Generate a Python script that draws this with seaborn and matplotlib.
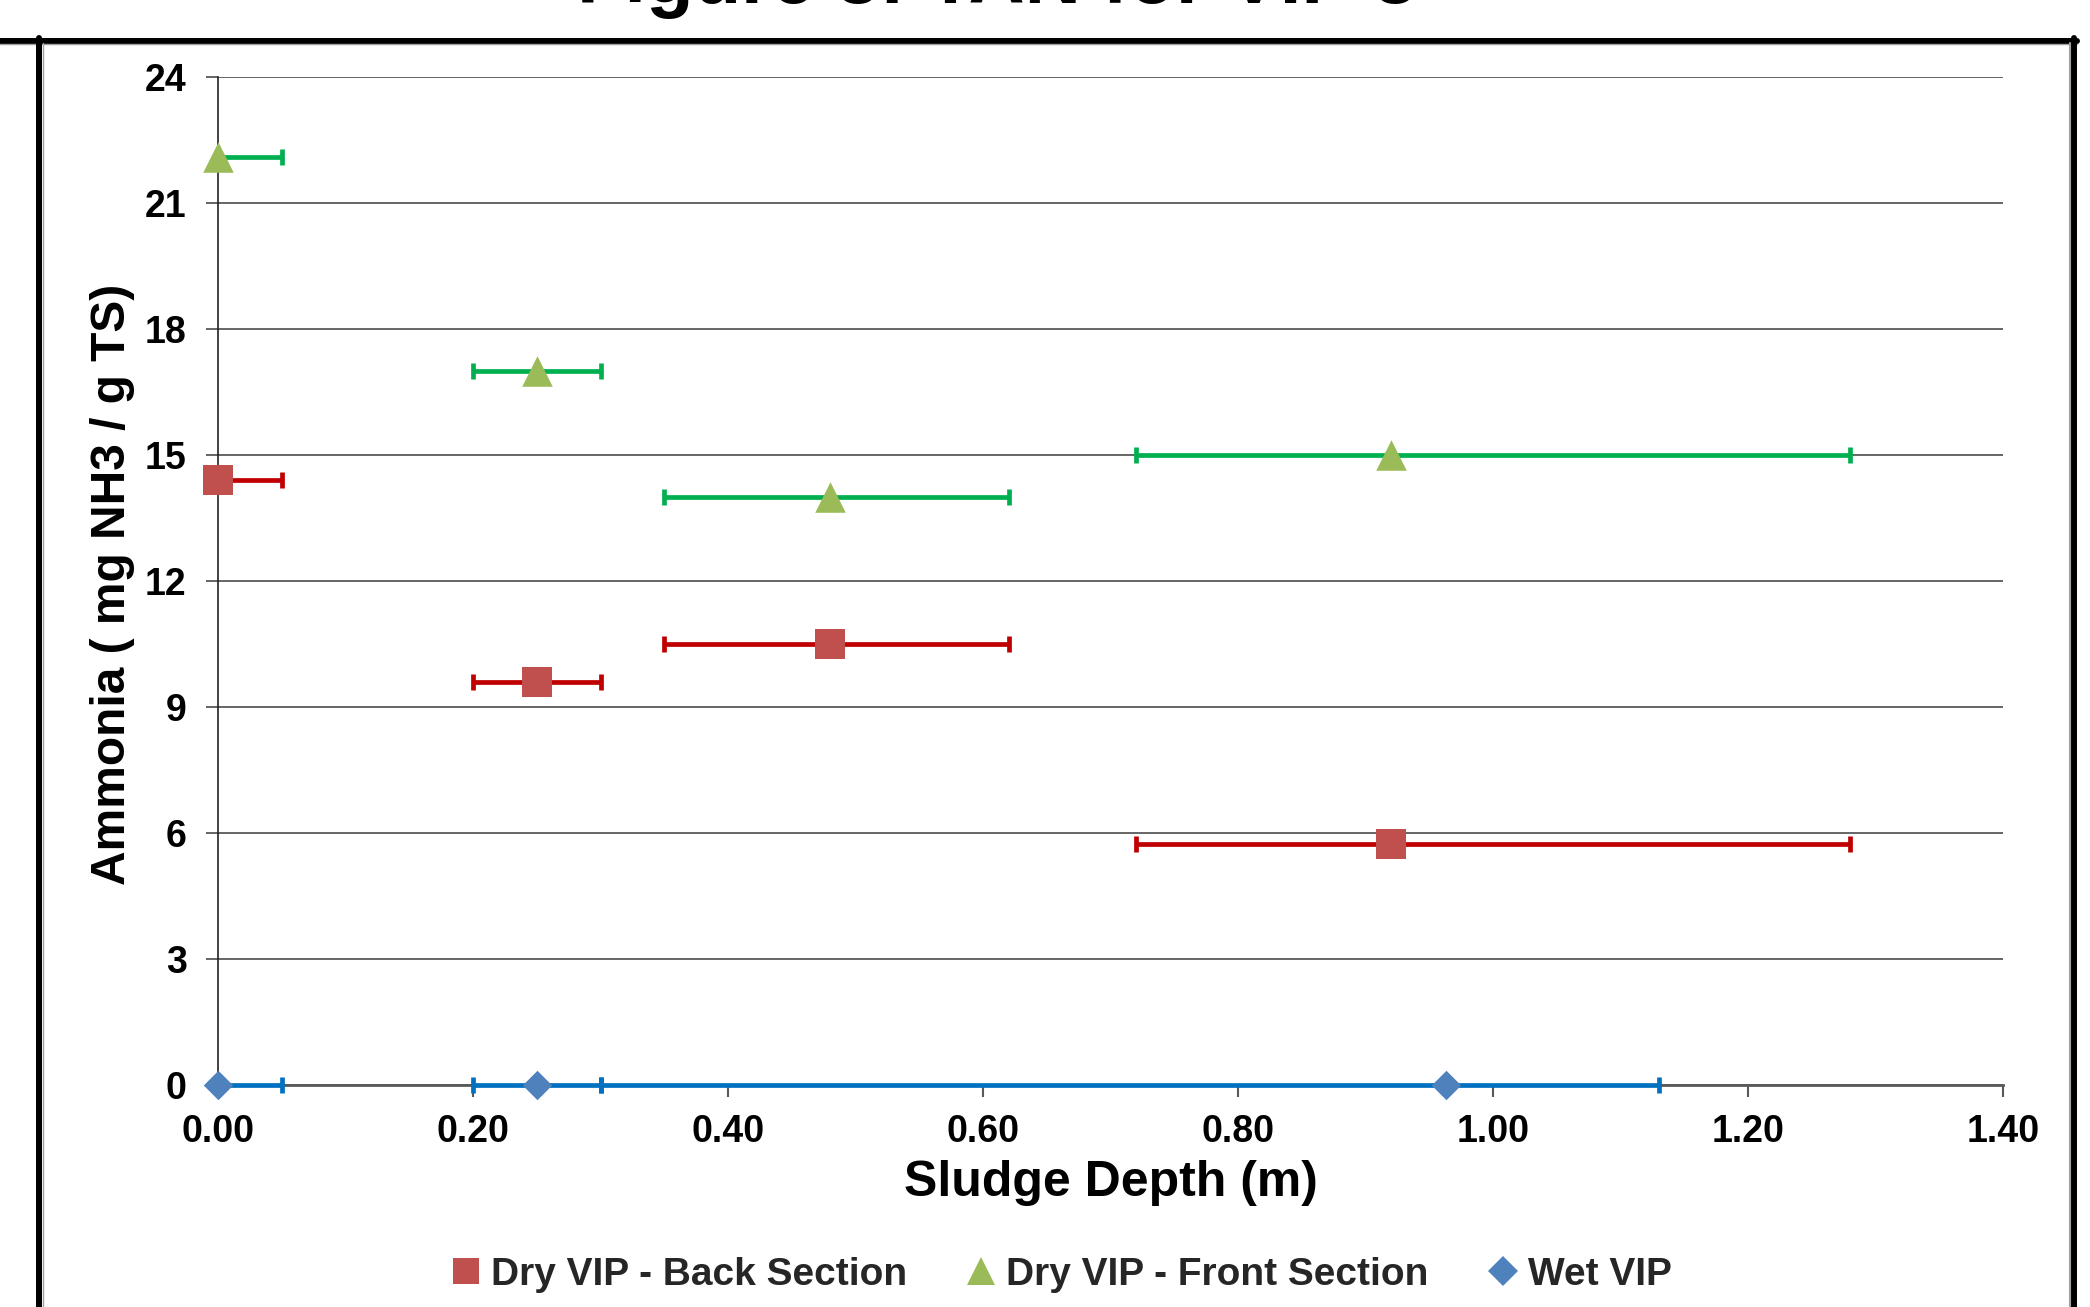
import numpy as np
import pandas as pd
import matplotlib
matplotlib.use("Agg")
import matplotlib.pyplot as plt
from matplotlib.lines import Line2D
import seaborn as sns

# ---------------- data ----------------
series_names = ["Dry VIP - Back Section", "Dry VIP - Front Section", "Wet VIP"]

back_depth = [0.00, 0.25, 0.48, 0.92]
back_ammonia = [14.4, 9.6, 10.5, 5.75]
back_err_lo = [0.00, 0.05, 0.13, 0.20]
back_err_hi = [0.05, 0.05, 0.14, 0.36]

front_depth = [0.00, 0.25, 0.48, 0.92]
front_ammonia = [22.1, 17.0, 14.0, 15.0]
front_err_lo = [0.00, 0.05, 0.13, 0.20]
front_err_hi = [0.05, 0.05, 0.14, 0.36]

wet_depth = [0.00, 0.25, 0.963]
wet_ammonia = [0.0, 0.0, 0.0]
wet_err_lo = [0.00, 0.05, 0.663]
wet_err_hi = [0.05, 0.05, 0.167]

y_ticks = [0, 3, 6, 9, 12, 15, 18, 21, 24]
x_ticks = [0.00, 0.20, 0.40, 0.60, 0.80, 1.00, 1.20, 1.40]
x_tick_labels = ["0.00", "0.20", "0.40", "0.60", "0.80", "1.00", "1.20", "1.40"]

title_text = "Figure 3: TAN for VIP 3"
x_label = "Sludge Depth (m)"
y_label = "Ammonia ( mg NH3 / g TS)"

# ---------------- style ----------------
sns.set_theme(style="white")
plt.rcParams["font.family"] = ["Liberation Sans", "DejaVu Sans"]
plt.rcParams["font.weight"] = "bold"

marker_colors = {"Dry VIP - Back Section": "#C0504D",
                 "Dry VIP - Front Section": "#9BBB59",
                 "Wet VIP": "#4F81BD"}
err_colors = {"Dry VIP - Back Section": "#C00000",
              "Dry VIP - Front Section": "#00B050",
              "Wet VIP": "#0070C0"}
markers = {"Dry VIP - Back Section": "s",
           "Dry VIP - Front Section": "^",
           "Wet VIP": "D"}
msize = {"Dry VIP - Back Section": 21,
         "Dry VIP - Front Section": 22,
         "Wet VIP": 15}

W, H = 2090, 1307
fig = plt.figure(figsize=(W / 100, H / 100), dpi=100)
ax_left, ax_right, ax_top, ax_bot = 218, 2003, 77, 1085
ax = fig.add_axes([ax_left / W, 1 - ax_bot / H, (ax_right - ax_left) / W, (ax_bot - ax_top) / H])

frames = [
    pd.DataFrame({"depth": back_depth, "ammonia": back_ammonia, "lo": back_err_lo, "hi": back_err_hi,
                  "series": series_names[0]}),
    pd.DataFrame({"depth": front_depth, "ammonia": front_ammonia, "lo": front_err_lo, "hi": front_err_hi,
                  "series": series_names[1]}),
    pd.DataFrame({"depth": wet_depth, "ammonia": wet_ammonia, "lo": wet_err_lo, "hi": wet_err_hi,
                  "series": series_names[2]}),
]
df = pd.concat(frames, ignore_index=True)

# error bars first (below markers)
for name in series_names:
    d = df[df["series"] == name]
    ax.errorbar(d["depth"], d["ammonia"], xerr=[d["lo"], d["hi"]], fmt="none",
                ecolor=err_colors[name], elinewidth=3.4, capsize=5.5, capthick=3.4,
                zorder=3, clip_on=False)

for name in series_names:
    d = df[df["series"] == name]
    sns.scatterplot(data=d, x="depth", y="ammonia", ax=ax, marker=markers[name],
                    color=marker_colors[name], s=msize[name] ** 2, linewidth=0,
                    zorder=4, clip_on=False, legend=False)

ax.set_xlim(0, 1.4)
ax.set_ylim(0, 24)
ax.set_xticks(x_ticks)
ax.set_xticklabels(x_tick_labels)
ax.set_yticks(y_ticks)
ax.set_yticklabels([str(v) for v in y_ticks])

ax.yaxis.grid(True, color="#595959", linewidth=1.3)
ax.xaxis.grid(False)
ax.set_axisbelow(True)

for s in ["top", "right"]:
    ax.spines[s].set_visible(False)
ax.spines["left"].set_color("#222222")
ax.spines["left"].set_linewidth(1.2)
ax.spines["bottom"].set_color("#595959")
ax.spines["bottom"].set_linewidth(2.0)
ax.spines["left"].set_zorder(2.5)

ax.tick_params(axis="y", direction="out", length=8.6, width=1.3, color="#595959",
               pad=14, labelsize=27, left=True)
ax.tick_params(axis="x", direction="out", length=8.6, width=1.5, color="#595959",
               pad=12, labelsize=27, bottom=True)
for lab in ax.get_xticklabels() + ax.get_yticklabels():
    lab.set_fontweight("bold")
    lab.set_color("black")

ax.set_xlabel(x_label, fontsize=36, fontweight="bold", color="black")
ax.set_ylabel(y_label, fontsize=34.5, fontweight="bold", color="black")
ax.xaxis.set_label_coords(0.5, (ax_bot - 1160) / (ax_bot - ax_top))
ax.yaxis.set_label_coords((135 - ax_left) / (ax_right - ax_left), 0.497)

# legend
legend_msize = {"Dry VIP - Back Section": 19, "Dry VIP - Front Section": 20, "Wet VIP": 15}
handles = [Line2D([], [], linestyle="none", marker=markers[n], color=marker_colors[n],
                  markersize=legend_msize[n], markeredgewidth=0)
           for n in series_names]
leg = fig.legend(handles, series_names, loc="center", bbox_to_anchor=(1061 / W, 1 - 1275 / H),
                 ncol=3, frameon=False, handlelength=0.8, handletextpad=0.25, columnspacing=1.5,
                 prop={"size": 28, "weight": "bold"})

# title (cut off at the top, as in the source)
fig.text(997 / W, 1 - 3 / H, title_text, ha="center", va="baseline", fontsize=56,
         fontweight="bold", color="black")

# chart border
tf = fig.transFigure
fig.add_artist(Line2D([0, 2077 / W], [1 - 40.5 / H] * 2, transform=tf, color="black", lw=4.3))
fig.add_artist(Line2D([0, 2077 / W], [1 - 44 / H] * 2, transform=tf, color="#A0A0A0", lw=1.0))
fig.add_artist(Line2D([39 / W] * 2, [0, 1 - 38 / H], transform=tf, color="black", lw=4.3))
fig.add_artist(Line2D([42.5 / W] * 2, [0, 1 - 43 / H], transform=tf, color="#A0A0A0", lw=1.0))
fig.add_artist(Line2D([2074 / W] * 2, [0, 1 - 38 / H], transform=tf, color="black", lw=4.3))
fig.add_artist(Line2D([2069.5 / W] * 2, [0, 1 - 43 / H], transform=tf, color="#A0A0A0", lw=1.5))

fig.savefig("out.png", dpi=100)
